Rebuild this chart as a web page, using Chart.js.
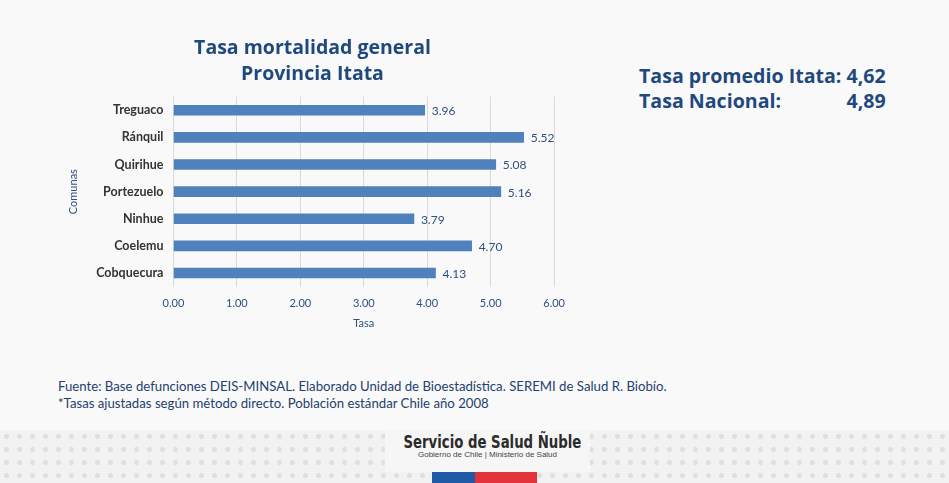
<!DOCTYPE html>
<html>
<head>
<meta charset="utf-8">
<script src="https://cdn.jsdelivr.net/npm/chart.js@4.4.1/dist/chart.umd.min.js"></script>
<style>
  html, body { margin: 0; padding: 0; }
  body { width: 949px; height: 483px; background: #f9f9f9; position: relative; overflow: hidden; font-family: Lato, sans-serif; }
  #wrap { position: absolute; left: 55px; top: 30px; width: 520px; height: 310px; }
  #stats { position: absolute; left: 639px; top: 63px; font-family: "Open Sans", sans-serif; font-weight: bold; font-size: 19.6px; color: #1f497d; line-height: 25px; white-space: nowrap; }
  #stats .row2 { position: relative; }
  #stats .row2 span { position: absolute; right: 0; }
  .note { position: absolute; left: 58px; font-size: 13.2px; color: #1f3f6f; }
  #band { position: absolute; left: 0; top: 430px; width: 949px; height: 53px;
    background-color: #f2f2f2;
    background-image: radial-gradient(circle, #e0e0e0 2.2px, transparent 2.7px);
    background-size: 13px 13px; }
  #logo { position: absolute; left: 385px; top: 430px; width: 205px; height: 42px; background: #f6f6f6; text-align: center; }
  #logo .t1 { font-family: "Liberation Sans Narrow", "DejaVu Sans Condensed", sans-serif; font-weight: bold; font-size: 18px; color: #2b2b2b; margin-top: 1px; transform: scaleX(0.82); white-space: nowrap; }
  #logo .t2 { font-family: "Liberation Sans Narrow", sans-serif; font-size: 8px; color: #444; margin-top: -2px; }
  .flag { position: absolute; top: 472px; height: 11px; }
</style>
</head>
<body>
<div id="wrap"><canvas id="tasaChart"></canvas></div>

<div id="stats">
  <div>Tasa promedio Itata: 4,62</div>
  <div class="row2">Tasa Nacional: <span>4,89</span></div>
</div>

<div class="note" style="top:378px">Fuente: Base defunciones DEIS-MINSAL. Elaborado Unidad de Bioestadística. SEREMI de Salud R. Biobío.</div>
<div class="note" style="top:395px">*Tasas ajustadas según método directo. Población estándar Chile año 2008</div>

<div id="band"></div>
<div id="logo"><div class="t1">Servicio de Salud Ñuble</div><div class="t2">Gobierno de Chile | Ministerio de Salud</div></div>
<div class="flag" style="left:432px; width:43px; background:#1f5aa6"></div>
<div class="flag" style="left:475px; width:62px; background:#e2323a"></div>

<script>
const comunas = ['Treguaco', 'Ránquil', 'Quirihue', 'Portezuelo', 'Ninhue', 'Coelemu', 'Cobquecura'];
const tasas = [3.96, 5.52, 5.08, 5.16, 3.79, 4.70, 4.13];
const tituloLineas = ['Tasa mortalidad general', 'Provincia Itata'];

const valueLabels = {
  id: 'valueLabels',
  afterDatasetsDraw(chart) {
    const c = chart.ctx;
    const meta = chart.getDatasetMeta(0);
    c.save();
    c.font = '12px Lato';
    c.fillStyle = '#2f4f7f';
    c.textBaseline = 'middle';
    c.textAlign = 'left';
    meta.data.forEach((bar, i) => {
      c.fillText(tasas[i].toFixed(2), bar.x + 7, bar.y + 1);
    });
    c.restore();
  }
};

const ctx = document.getElementById('tasaChart').getContext('2d');

new Chart(ctx, {
  type: 'bar',
  data: {
    labels: comunas,
    datasets: [{
      data: tasas,
      backgroundColor: '#4f81bd',
      borderWidth: 0,
      barThickness: 10
    }]
  },
  options: {
    indexAxis: 'y',
    responsive: true,
    maintainAspectRatio: false,
    animation: false,
    layout: { padding: { top: 4, right: 13, bottom: 6, left: 8 } },
    scales: {
      x: {
        min: 0,
        max: 6,
        ticks: {
          stepSize: 1,
          callback: v => v.toFixed(2),
          color: '#2f4f7f',
          font: { family: 'Lato', size: 11 },
          padding: 10
        },
        grid: { color: '#d9d9d9', drawTicks: false },
        border: { display: false },
        title: {
          display: true,
          text: 'Tasa',
          color: '#2f4f7f',
          font: { family: 'Lato', size: 11 },
          padding: { top: -3, bottom: 4 }
        }
      },
      y: {
        ticks: {
          color: '#333333',
          font: { family: 'Lato', size: 12.5, weight: 'bold' },
          padding: 10
        },
        grid: { display: false, drawTicks: false },
        border: { display: false },
        title: {
          display: true,
          text: 'Comunas',
          color: '#2f4f7f',
          font: { family: 'Lato', size: 11 },
          padding: { bottom: 6 }
        }
      }
    },
    plugins: {
      legend: { display: false },
      tooltip: { enabled: false },
      title: {
        display: true,
        text: tituloLineas,
        color: '#1f497d',
        font: { family: 'Open Sans', size: 19.5, weight: 'bold', lineHeight: 1.3 },
        padding: { top: 2, bottom: 10 }
      }
    }
  },
  plugins: [valueLabels]
});
</script>
</body>
</html>
